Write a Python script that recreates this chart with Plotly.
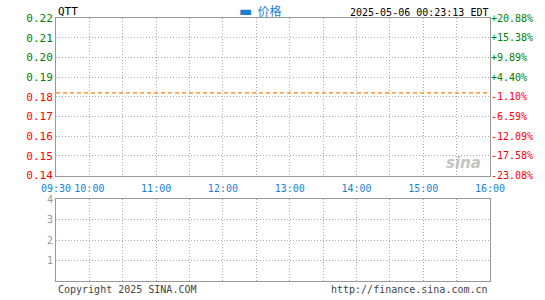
import plotly.graph_objects as go

# ---- data ----
symbol = "QTT"
timestamp_text = "2025-05-06 00:23:13 EDT"
series_name = "价格"
prev_close = 0.182
price_ticks = [0.14, 0.15, 0.16, 0.17, 0.18, 0.19, 0.20, 0.21, 0.22]
time_minutes = [0, 30, 60, 90, 120, 150, 180, 210, 240, 270, 300, 330, 360, 390]
time_labels = ["09:30", "10:00", "", "11:00", "", "12:00", "", "13:00", "", "14:00", "", "15:00", "", "16:00"]
price_times = []   # no intraday trades shown
price_values = []
volume_times = []
volume_values = []
volume_ticks = [1, 2, 3, 4]

GREEN = "#008000"
RED = "#ff0000"
BLUE = "#1a7fcf"
GRID = "#aaaaaa"
BORDER = "#999999"
MONO = "DejaVu Sans Mono, Liberation Mono, monospace"

def pct(p):
    return (p / prev_close - 1) * 100

left_text = []
right_text = []
right_vals = []
for p in price_ticks:
    c = GREEN if p > prev_close else RED
    left_text.append(f'<span style="color:{c}">{p:.2f}</span>')
    v = pct(p)
    right_vals.append(v)
    right_text.append(f'<span style="color:{c}">{v:+.2f}%</span>')

fig = go.Figure()

fig.add_trace(go.Scatter(
    x=price_times, y=price_values, name=series_name, mode="lines",
    line=dict(color=BLUE, width=1),
    xaxis="x", yaxis="y", showlegend=False, hoverinfo="skip"))

fig.add_trace(go.Scatter(
    x=[time_minutes[0], time_minutes[-1]], y=[prev_close, prev_close],
    mode="lines", line=dict(color="#ff8000", width=1.4, dash="4px,3px"),
    xaxis="x", yaxis="y", showlegend=False, hoverinfo="skip"))

# invisible trace to activate right axis
fig.add_trace(go.Scatter(
    x=[time_minutes[0]], y=[pct(prev_close)], mode="markers",
    marker=dict(opacity=0), xaxis="x", yaxis="y2", showlegend=False, hoverinfo="skip"))

fig.add_trace(go.Bar(
    x=volume_times, y=volume_values, xaxis="x2", yaxis="y3",
    marker_color=BLUE, showlegend=False))

H_TOP, H_BOT = 18, 15
plot_h = 300 - H_TOP - H_BOT
main_bottom = (285 - 178) / plot_h
vol_top = (285 - 202) / plot_h

axis_common = dict(showline=True, linecolor=BORDER, linewidth=1, mirror=True,
                   zeroline=False, showgrid=True, gridcolor=GRID, griddash="1px,2px", gridwidth=1)

fig.update_layout(
    width=545, height=300,
    margin=dict(l=56, r=53, t=H_TOP, b=H_BOT),
    paper_bgcolor="white", plot_bgcolor="white",
    font=dict(family=MONO, size=10, color="black"),
    showlegend=False,
    xaxis=dict(domain=[0, 1], anchor="y", range=[0, 390], tickmode="array",
               tickvals=time_minutes, ticktext=time_labels, ticklabelstandoff=3,
               tickfont=dict(family=MONO, size=10, color=BLUE), ticks="",
               **axis_common),
    yaxis=dict(domain=[main_bottom, 1], anchor="x", range=[0.14, 0.22],
               tickmode="array", tickvals=price_ticks, ticktext=left_text,
               tickfont=dict(family=MONO, size=11), ticks="", **axis_common),
    yaxis2=dict(overlaying="y", side="right", anchor="x",
                range=[pct(0.14), pct(0.22)], tickmode="array",
                tickvals=right_vals, ticktext=right_text, showgrid=False,
                zeroline=False, tickfont=dict(family=MONO, size=10), ticks=""),
    xaxis2=dict(domain=[0, 1], anchor="y3", range=[0, 390], tickmode="array",
                tickvals=time_minutes, showticklabels=False, ticks="", **axis_common),
    yaxis3=dict(domain=[0, vol_top], anchor="x2", range=[0, 4], tickmode="array",
                tickvals=volume_ticks, ticktext=[str(v) for v in volume_ticks],
                tickfont=dict(family=MONO, size=10, color="#999999"), ticks="",
                **axis_common),
    annotations=[
        dict(text=symbol, xref="paper", yref="paper", x=0, y=1, xanchor="left",
             yanchor="bottom", yshift=-2, showarrow=False,
             font=dict(family=MONO, size=11, color="black")),
        dict(text=f'<span style="font-family:DejaVu Sans;font-size:14px"><b>▬</b></span>  {series_name}',
             xref="paper", yref="paper", x=(238 - 56) / 436, y=1, xanchor="left",
             yanchor="bottom", yshift=-3, showarrow=False,
             font=dict(family="Noto Sans CJK SC", size=12, color=BLUE)),
        dict(text=timestamp_text, xref="paper", yref="paper", x=1, y=1, xanchor="right",
             yanchor="bottom", yshift=-2, showarrow=False,
             font=dict(family=MONO, size=10, color="black")),
        dict(text="Copyright 2025 SINA.COM", xref="paper", yref="paper", x=0, y=0,
             xanchor="left", yanchor="top", yshift=-1, showarrow=False,
             font=dict(family=MONO, size=10, color="#444444")),
        dict(text="http://finance.sina.com.cn", xref="paper", yref="paper", x=1, y=0,
             xanchor="right", yanchor="top", yshift=-1, showarrow=False,
             font=dict(family=MONO, size=10, color="#444444")),
        dict(text="<b><i>sina</i></b>", xref="paper", yref="paper", x=0.985, y=main_bottom,
             xanchor="right", yanchor="bottom", yshift=2, showarrow=False,
             font=dict(family="DejaVu Sans", size=15, color="#c4c4c4")),
    ],
)

fig.write_html("out.html")
